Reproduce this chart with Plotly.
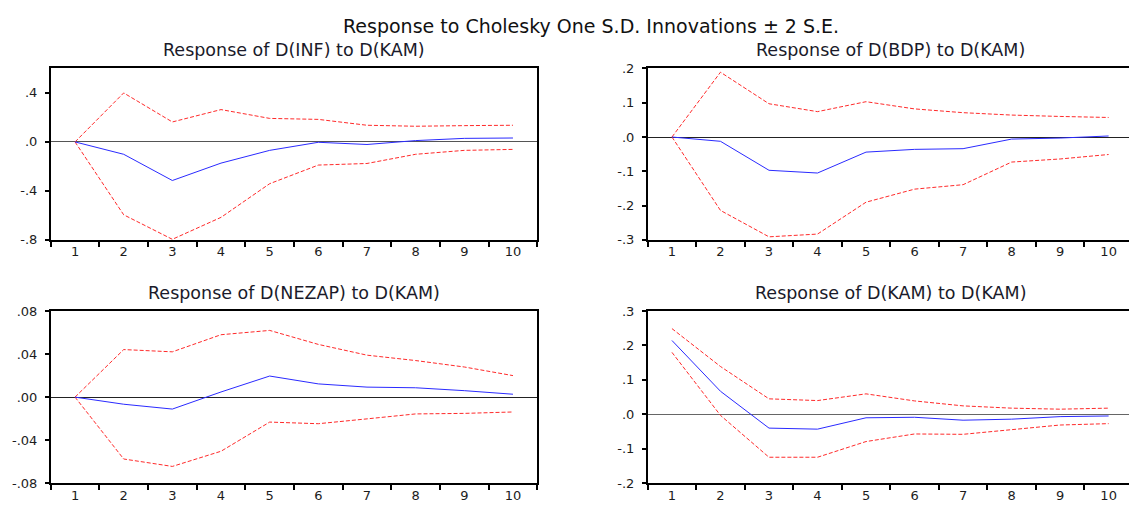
import plotly.graph_objects as go

# ---------------- data ----------------
periods = list(range(1, 11))

inf_resp  = [0.0, -0.101, -0.315, -0.173, -0.069, -0.003, -0.021, 0.011, 0.029, 0.032]
inf_upper = [0.0, 0.400, 0.163, 0.264, 0.192, 0.184, 0.136, 0.128, 0.133, 0.136]
inf_lower = [0.0, -0.595, -0.795, -0.616, -0.341, -0.189, -0.176, -0.101, -0.069, -0.061]

bdp_resp  = [0.0, -0.0125, -0.097, -0.105, -0.044, -0.036, -0.034, -0.006, -0.003, 0.003]
bdp_upper = [0.0, 0.189, 0.097, 0.074, 0.103, 0.082, 0.071, 0.064, 0.060, 0.057]
bdp_lower = [0.0, -0.214, -0.291, -0.283, -0.190, -0.152, -0.139, -0.073, -0.064, -0.051]

nezap_resp  = [0.0, -0.0066, -0.0111, 0.0048, 0.0196, 0.0123, 0.0093, 0.0087, 0.0060, 0.0027]
nezap_upper = [0.0, 0.0442, 0.0421, 0.0580, 0.0620, 0.0490, 0.0390, 0.0340, 0.0280, 0.0200]
nezap_lower = [0.0, -0.0575, -0.0644, -0.0503, -0.0232, -0.0247, -0.0202, -0.0156, -0.0151, -0.0138]

kam_resp  = [0.2145, 0.067, -0.040, -0.043, -0.010, -0.0085, -0.017, -0.014, -0.0066, -0.0047]
kam_upper = [0.249, 0.139, 0.045, 0.040, 0.0595, 0.039, 0.0246, 0.018, 0.015, 0.018]
kam_lower = [0.180, -0.003, -0.1246, -0.1246, -0.079, -0.057, -0.058, -0.044, -0.031, -0.027]

main_title = "Response to Cholesky One S.D. Innovations \u00b1 2 S.E."
panel_titles = [
    "Response of D(INF) to D(KAM)",
    "Response of D(BDP) to D(KAM)",
    "Response of D(NEZAP) to D(KAM)",
    "Response of D(KAM) to D(KAM)",
]
inf_ticks = [-0.8, -0.4, 0.0, 0.4]
bdp_ticks = [-0.3, -0.2, -0.1, 0.0, 0.1, 0.2]
nezap_ticks = [-0.08, -0.04, 0.0, 0.04, 0.08]
kam_ticks = [-0.2, -0.1, 0.0, 0.1, 0.2, 0.3]

# ---------------- styling / layout ----------------
W, H = 1129, 508          # reference picture size (positions below are in its pixels)
FONT = "DejaVu Sans"
TXT = "#1c1c1c"

def fmt(v, dec):
    s = f"{v:.{dec}f}"
    if s.startswith("-0."):
        return "-" + s[2:]
    if s.startswith("0."):
        return s[1:]
    return s

panels = [
    dict(resp=inf_resp, up=inf_upper, lo=inf_lower, ticks=inf_ticks, dec=1,
         yr=[-0.8, 0.6], xd=[50.7, 537.3], yd=[63.3, 240.0], xr=[0.5, 10.5], right=True,
         zc="#555555"),
    dict(resp=bdp_resp, up=bdp_upper, lo=bdp_lower, ticks=bdp_ticks, dec=1,
         yr=[-0.3, 0.2], xd=[647.7, 1129.0], yd=[63.3, 240.0], xr=[0.5, 10.42], right=False,
         zc="#222222"),
    dict(resp=nezap_resp, up=nezap_upper, lo=nezap_lower, ticks=nezap_ticks, dec=2,
         yr=[-0.08, 0.08], xd=[50.7, 537.3], yd=[313.3, 490.7], xr=[0.5, 10.5], right=True,
         zc="#222222"),
    dict(resp=kam_resp, up=kam_upper, lo=kam_lower, ticks=kam_ticks, dec=1,
         yr=[-0.2, 0.3], xd=[647.7, 1129.0], yd=[313.3, 490.7], xr=[0.5, 10.42], right=False,
         zc="#666666"),
]

fig = go.Figure()
layout = dict(
    autosize=True,
    margin=dict(l=0, r=0, t=0, b=0, pad=0),
    paper_bgcolor="white", plot_bgcolor="white",
    showlegend=False,
    font=dict(family=FONT, color=TXT, size=13),
)

half_ticks = [p - 0.5 for p in periods] + [periods[-1] + 0.5]
annotations = []

for i, p in enumerate(panels, start=1):
    xa = "x" if i == 1 else f"x{i}"
    ya = "y" if i == 1 else f"y{i}"
    for series, color, dash in ((p["up"], "#ff2a2a", "4px,2px"),
                                (p["lo"], "#ff2a2a", "4px,2px"),
                                (p["resp"], "#2a2aff", "solid")):
        fig.add_trace(go.Scatter(x=periods, y=series, mode="lines", xaxis=xa, yaxis=ya,
                                 line=dict(color=color, width=1, dash=dash),
                                 hoverinfo="skip"))
    xkey = "xaxis" if i == 1 else f"xaxis{i}"
    ykey = "yaxis" if i == 1 else f"yaxis{i}"
    layout[xkey] = dict(
        domain=[p["xd"][0] / W, min(p["xd"][1] / W, 1.0)], range=p["xr"], anchor=ya,
        tickmode="array", tickvals=periods, ticktext=[str(v) for v in periods],
        ticks="", showgrid=False, zeroline=False,
        showline=True, linecolor="black", linewidth=1.5, mirror=True,
        tickfont=dict(family=FONT, size=13, color=TXT),
        ticklabelstandoff=-1,
        minor=dict(tickmode="array", tickvals=half_ticks, ticks="outside",
                   ticklen=5, tickwidth=1.5, tickcolor="black", showgrid=False),
    )
    layout[ykey] = dict(
        domain=[1 - p["yd"][1] / H, 1 - p["yd"][0] / H], range=p["yr"], anchor=xa,
        tickmode="array", tickvals=p["ticks"], ticktext=[fmt(v, p["dec"]) for v in p["ticks"]],
        ticks="outside", ticklen=4, tickwidth=1.5, tickcolor="black",
        showgrid=False, zeroline=True, zerolinecolor=p["zc"], zerolinewidth=1,
        showline=True, linecolor="black", linewidth=1.5, mirror=p["right"],
        tickfont=dict(family=FONT, size=13, color=TXT),
        ticklabelstandoff=5,
    )
    # centre of the full (10-period) panel
    full_right = p["xd"][0] + (10.5 - 0.5) * (p["xd"][1] - p["xd"][0]) / (p["xr"][1] - p["xr"][0])
    cx = (p["xd"][0] + full_right) / 2 / W
    annotations.append(dict(
        text=panel_titles[i - 1], x=cx, y=1 - (p["yd"][0] - 19) / H,
        xref="paper", yref="paper", xanchor="center", yanchor="middle",
        showarrow=False, font=dict(family=FONT, size=17.5, color="#1a1a2a"),
    ))

annotations.append(dict(
    text=main_title, x=591 / W, y=1 - 19.5 / H, xref="paper", yref="paper",
    xanchor="center", yanchor="middle", showarrow=False,
    font=dict(family=FONT, size=19, color="#111111"),
))
layout["annotations"] = annotations
fig.update_layout(**layout)

post = (
    "var de=document.documentElement, b=document.body;"
    "de.style.margin='0';de.style.padding='0';de.style.overflow='hidden';"
    "b.style.margin='0';b.style.padding='0';b.style.overflow='hidden';"
    "var gd=document.getElementById('{plot_id}');"
    "gd.style.position='fixed';gd.style.left='0px';gd.style.top='0px';"
    "gd.style.width='100vw';gd.style.height='100vh';"
    "Plotly.Plots.resize(gd);"
)
fig.write_html("out.html", config={"displayModeBar": False, "responsive": True},
               default_width="100vw", default_height="100vh", post_script=post)
